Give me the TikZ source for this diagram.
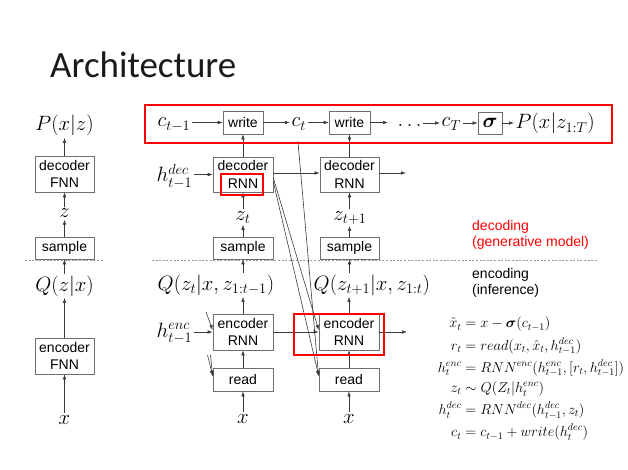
\documentclass[tikz,border=0pt]{standalone}
\usepackage{amsmath}
\usepackage{fontspec}
\newfontfamily\titlefont{Carlito}
\newfontfamily\boxfont{Liberation Sans}
\usetikzlibrary{arrows.meta,calc}
\definecolor{linegray}{HTML}{3A3A3A}
\definecolor{boxgray}{HTML}{6E6E6E}
\definecolor{hlred}{HTML}{FF0000}
\definecolor{titlecol}{HTML}{1A1A1A}
\tikzset{
  box/.style={draw=boxgray, line width=0.7pt, fill=white, inner sep=0pt, align=center,
    font=\boxfont\fontsize{14}{17.5}\selectfont},
  lbl/.style={inner sep=1.5pt, font=\fontsize{21.5}{24}\selectfont},
  arr/.style={draw=linegray, line width=0.6pt, -{Latex[length=5pt,width=3.6pt]}},
  hl/.style={draw=hlred, line width=1.9pt},
  dashline/.style={draw=gray!80, line width=0.6pt, dash pattern=on 2pt off 1.6pt},
  side/.style={anchor=west, align=left, inner sep=0pt, font=\boxfont\fontsize{14}{16}\selectfont},
}
\begin{document}
\begin{tikzpicture}[x=1pt,y=-1pt]
\useasboundingbox (0,0) rectangle (628,470);
% title
\node[anchor=base west, inner sep=0pt, font=\titlefont\fontsize{37}{44}\selectfont, text=titlecol] (title) at (50,78) {Architecture};

% ---------- left column (VAE) ----------
\node[lbl, anchor=base] (Pxz) at (64.5,131) {$P(x|z)$};
\node[box, minimum width=59pt, minimum height=36pt] (decF) at (64.5,174) {decoder\\FNN};
\node[lbl, anchor=base] (zL) at (64.5,218) {$z$};
\node[box, minimum width=59pt, minimum height=22pt] (sampL) at (64.5,248) {sample};
\node[lbl, anchor=base] (QL) at (64.5,291) {$Q(z|x)$};
\node[box, minimum width=59pt, minimum height=36pt] (encF) at (64.5,356) {encoder\\FNN};
\node[lbl, anchor=base] (xL) at (64.5,424) {$x$};
\draw[arr] (xL.north) -- (encF.south);
\draw[arr] (encF.north) -- (QL.south);
\draw[arr] (QL.north) -- (sampL.south);
\draw[arr] (sampL.north) -- (zL.south);
\draw[arr] (zL.north) -- (decF.south);
\draw[arr] (decF.north) -- (Pxz.south);
\draw[dashline] (25,260) -- (103,260);

% ---------- DRAW ----------
% top row
\node[lbl, anchor=base west] (cprev) at (156,127) {$c_{t-1}$};
\node[box, minimum width=40pt, minimum height=23pt] (write1) at (243,122.5) {write};
\node[lbl, anchor=base west] (ct) at (290,127) {$c_t$};
\node[box, minimum width=41pt, minimum height=23pt] (write2) at (349.5,122.5) {write};
\coordinate (d1) at (388,122.5);
\node[lbl, anchor=base west] (dots) at (396,127) {$\ldots$};
\node[lbl, anchor=base west] (cT) at (440,127) {$c_T$};
\node[box, minimum width=24pt, minimum height=22pt, font=\fontsize{20}{22}\selectfont] (sig) at (490,123) {$\boldsymbol{\sigma}$};
\node[lbl, anchor=base west] (Pfin) at (514,129) {$P(x|z_{1:T})$};
\draw[arr] (cprev.east |- write1.west) -- (write1.west);
\draw[arr] (write1.east) -- (ct.west |- write1.east);
\draw[arr] (ct.east |- write1.east) -- (write2.west);
\draw[arr] (write2.east) -- (d1);
\draw[arr] (dots.east |- sig.west) -- (cT.west |- sig.west);
\draw[arr] (cT.east |- sig.west) -- (sig.west);
\draw[arr] (sig.east) -- (Pfin.west |- sig.east);

% decoder row
\node[lbl, anchor=base west] (hdec) at (155,182) {$h^{dec}_{t-1}$};
\node[box, minimum width=60pt, minimum height=35pt] (dec1) at (243,174.5) {decoder\\RNN};
\node[box, minimum width=59pt, minimum height=35pt] (dec2) at (349.5,174.5) {decoder\\RNN};
\coordinate (d2) at (406,173);
\draw[arr] (hdec.east |- dec1.west) -- (dec1.west);
\draw[arr] ([yshift=1.5pt]dec1.east) -- ([yshift=1.5pt]dec2.west);
\draw[arr] ([yshift=1.5pt]dec2.east) -- (d2);
\draw[arr] (dec1.north) -- (write1.south);
\draw[arr] (dec2.north) -- (write2.south);

% z row
\node[lbl, anchor=base] (zt) at (243,220) {$z_t$};
\node[lbl, anchor=base] (zt1) at (350,220) {$z_{t+1}$};
\draw[arr] (zt.north -| dec1.south) -- (dec1.south);
\draw[arr] (zt1.north -| dec2.south) -- (dec2.south);

% sample row
\node[box, minimum width=60pt, minimum height=22pt] (samp1) at (243,248) {sample};
\node[box, minimum width=59pt, minimum height=22pt] (samp2) at (349.5,248) {sample};
\draw[arr] (samp1.north) -- (samp1.north |- zt.south);
\draw[arr] (samp2.north) -- (samp2.north |- zt1.south);
\draw[dashline] (152,260) -- (598,260);

% Q row
\node[lbl, anchor=base west] (Q1) at (156,290) {$Q(z_t|x,z_{1:t-1})$};
\node[lbl, anchor=base west] (Q2) at (312,290) {$Q(z_{t+1}|x,z_{1:t})$};
\draw[arr] (samp1.south |- Q1.north) -- (samp1.south);
\draw[arr] (samp2.south |- Q2.north) -- (samp2.south);

% encoder row
\node[lbl, anchor=base west] (henc) at (155,337) {$h^{enc}_{t-1}$};
\node[box, minimum width=60pt, minimum height=36pt] (enc1) at (243,332) {encoder\\RNN};
\node[box, minimum width=60pt, minimum height=36pt] (enc2) at (349,332) {encoder\\RNN};
\coordinate (d3) at (407,332);
\draw[arr] (henc.east |- enc1.west) -- (enc1.west);
\draw[arr] (enc1.east) -- (enc2.west);
\draw[arr] (enc2.east) -- (d3);
\draw[arr] (enc1.north) -- (enc1.north |- Q1.south);
\draw[arr] (enc2.north) -- (enc2.north |- Q2.south);

% read row
\node[box, minimum width=60pt, minimum height=23pt] (read1) at (243,379.5) {read};
\node[box, minimum width=60pt, minimum height=23pt] (read2) at (349,379.5) {read};
\node[lbl, anchor=base] (x1) at (243,423) {$x$};
\node[lbl, anchor=base] (x2) at (349,423) {$x$};
\draw[arr] (read1.north) -- (enc1.south);
\draw[arr] (read2.north) -- (enc2.south);
\draw[arr] (x1.north) -- (read1.south);
\draw[arr] (x2.north) -- (read2.south);

% diagonal connections (from step t to step t+1)
\draw[arr] ([yshift=-3.5pt]dec1.east) -- ([yshift=2pt]enc2.west);
\draw[arr] ([yshift=-7.5pt]dec1.east) -- ([yshift=-8pt]read2.north west);
\draw[arr] ([xshift=-1pt,yshift=-9pt]ct.south) -- ([yshift=-9pt]read2.north west);
% incoming stubs from step t-1
\coordinate (s1) at (206,312);
\coordinate (s2) at (207.5,355);
\coordinate (s3) at (210.5,355);
\draw[arr] (s1) -- ([yshift=2pt]enc1.west);
\draw[arr] (s2) -- ([yshift=-8pt]read1.north west);
\draw[arr] (s3) -- ([yshift=-9pt]read1.north west);

% highlights
\draw[hl] (145,105) rectangle (612,143);
\draw[hl] (221,174) rectangle (263,195);
\draw[hl] (294,314) rectangle (384,355);

% side texts
\node[side, text=hlred] (decTxt) at (472,235) {decoding\\(generative model)};
\node[side] (encTxt) at (472,283) {encoding\\(inference)};

% equations
\node[inner sep=0pt, font=\fontsize{14.6}{17}\selectfont] (eqs) at (531,379)
{\setlength{\jot}{3.2pt}$\begin{aligned}
\hat{x}_t &= x - \boldsymbol{\sigma}(c_{t-1})\\
r_t &= read(x_t,\hat{x}_t,h^{dec}_{t-1})\\
h^{enc}_t &= RNN^{enc}(h^{enc}_{t-1},[r_t,h^{dec}_{t-1}])\\
z_t &\sim Q(Z_t|h^{enc}_t)\\
h^{dec}_t &= RNN^{dec}(h^{dec}_{t-1},z_t)\\
c_t &= c_{t-1}+write(h^{dec}_t)
\end{aligned}$};
\end{tikzpicture}
\end{document}
